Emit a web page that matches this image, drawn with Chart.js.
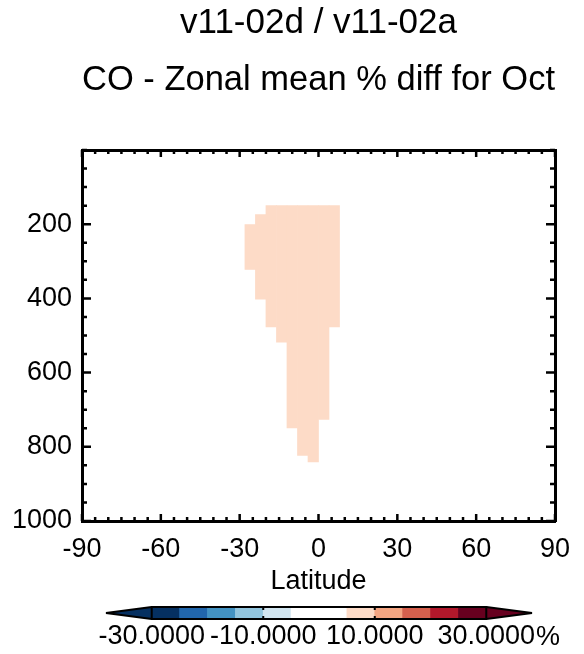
<!DOCTYPE html>
<html>
<head>
<meta charset="utf-8">
<script src="https://cdn.jsdelivr.net/npm/chart.js@4.4.0/dist/chart.umd.min.js"></script>
<style>
  body { margin: 0; background: #fff; }
  canvas { display: block; }
</style>
</head>
<body>
<canvas id="zonalChart" width="584" height="600"></canvas>
<canvas id="colorBar" width="584" height="54"></canvas>
<script>
// Cells with a diff: 4 deg latitude bands, top / bottom pressure edge in hPa
const latCenters = [-26, -22, -18, -14, -10, -6, -2, 2, 6];
const pTop = [201, 174, 150, 150, 150, 150, 150, 150, 150];
const pBottom = [322, 402, 477, 518, 749, 823, 841, 726, 477];
const pctDiff = [6, 6, 7, 7, 8, 7, 6, 7, 6];

const xTicks = [-90, -60, -30, 0, 30, 60, 90];
const yTicks = [200, 400, 600, 800, 1000];

// colour table of the bar below the plot (RdBu, 5% steps)
const cbLevels = [-30, -25, -20, -15, -10, -5, 0, 5, 10, 15, 20, 25, 30];
const cbColors = ['#053061', '#2166ac', '#4393c3', '#92c5de', '#d1e5f0', '#ffffff',
                  '#ffffff', '#fddbc7', '#f4a582', '#d6604d', '#b2182b', '#67001f'];
const cbTicks = [-30, -10, 10, 30];

Chart.defaults.font.family = "'Liberation Sans', Arial, Helvetica, sans-serif";
Chart.defaults.color = '#000';

function colorFor(v) {
  for (let i = 0; i < cbColors.length; i++) {
    if (v >= cbLevels[i] && v < cbLevels[i + 1]) return cbColors[i];
  }
  return v < cbLevels[0] ? cbColors[0] : cbColors[cbColors.length - 1];
}

function tickList(min, max, step) {
  const out = [];
  for (let v = min; v <= max; v += step) out.push(v);
  return out;
}

// IDL style tick marks, pointing into the plot on every side
const inwardTicks = {
  id: 'inwardTicks',
  afterDatasetsDraw(chart, args, opts) {
    const ctx = chart.ctx;
    const {left, right, top, bottom} = chart.chartArea;
    ctx.save();
    ctx.strokeStyle = '#000';
    ctx.lineWidth = opts.width;
    ctx.beginPath();
    if (opts.x) {
      const s = chart.scales.x;
      opts.x.values.forEach(v => {
        const px = s.getPixelForValue(v);
        const len = opts.x.major.includes(v) ? opts.x.majorLen : opts.x.minorLen;
        ctx.moveTo(px, top); ctx.lineTo(px, top + len);
        ctx.moveTo(px, bottom); ctx.lineTo(px, bottom - len);
      });
    }
    if (opts.y) {
      const s = chart.scales.y;
      opts.y.values.forEach(v => {
        const py = s.getPixelForValue(v);
        const len = opts.y.major.includes(v) ? opts.y.majorLen : opts.y.minorLen;
        ctx.moveTo(left, py); ctx.lineTo(left + len, py);
        ctx.moveTo(right, py); ctx.lineTo(right - len, py);
      });
    }
    ctx.stroke();
    ctx.restore();
  }
};

// "%" unit written right after the last colour bar label
const unitLabel = {
  id: 'unitLabel',
  afterDraw(chart) {
    const ctx = chart.ctx;
    const s = chart.scales.x;
    ctx.save();
    ctx.font = "27px 'Liberation Sans', Arial, sans-serif";
    const last = cbTicks[cbTicks.length - 1];
    const x = s.getPixelForValue(last) + ctx.measureText(last.toFixed(4)).width / 2 + 1;
    ctx.fillStyle = '#000';
    ctx.textBaseline = 'alphabetic';
    ctx.fillText('%', x, 45);
    ctx.restore();
  }
};

new Chart(document.getElementById('zonalChart'), {
  type: 'bar',
  data: {
    datasets: [{
      data: latCenters.map((lat, i) => ({x: lat, y: [pTop[i], pBottom[i]]})),
      backgroundColor: pctDiff.map(colorFor),
      borderWidth: 0,
      barPercentage: 1,
      categoryPercentage: 1
    }]
  },
  options: {
    responsive: false,
    animation: false,
    plugins: {
      legend: {display: false},
      tooltip: {enabled: false},
      // fullSize off: titles are centred over the plot box, not the canvas
      title: {
        display: true,
        fullSize: false,
        text: 'v11-02d / v11-02a',
        font: {size: 35, weight: 'normal'},
        color: '#000',
        padding: {top: 2.5, bottom: 0}
      },
      subtitle: {
        display: true,
        fullSize: false,
        text: 'CO - Zonal mean % diff for Oct',
        font: {size: 35, weight: 'normal'},
        color: '#000',
        padding: {top: 14.5, bottom: 49}
      },
      inwardTicks: {
        width: 2.5,
        x: {values: tickList(-90, 90, 5), major: xTicks, majorLen: 7, minorLen: 4},
        y: {values: tickList(0, 1000, 50), major: yTicks, majorLen: 9, minorLen: 5}
      }
    },
    scales: {
      x: {
        type: 'linear', position: 'bottom', min: -90, max: 90, offset: false,
        afterBuildTicks: s => { s.ticks = xTicks.map(v => ({value: v})); },
        ticks: {font: {size: 27}, color: '#000', padding: 12, maxRotation: 0, autoSkip: false,
                callback: v => String(v)},
        grid: {display: false, drawTicks: false, offset: false},
        border: {color: '#000', width: 3},
        title: {display: true, text: 'Latitude', font: {size: 27}, color: '#000', padding: {top: 0, bottom: 2}},
        afterFit: s => { s.height = 79; }
      },
      x2: {
        type: 'linear', position: 'top', min: -90, max: 90, offset: false,
        ticks: {display: false},
        grid: {display: false, drawTicks: false, offset: false},
        border: {color: '#000', width: 3},
        afterFit: s => { s.height = 0; }
      },
      y: {
        type: 'linear', position: 'left', reverse: true, min: 0, max: 1000,
        afterBuildTicks: s => { s.ticks = yTicks.map(v => ({value: v})); },
        ticks: {font: {size: 27}, color: '#000', padding: 10, callback: v => String(v)},
        grid: {display: false, drawTicks: false},
        border: {color: '#000', width: 3},
        afterFit: s => { s.width = 82; }
      },
      y2: {
        type: 'linear', position: 'right', reverse: true, min: 0, max: 1000,
        ticks: {display: false},
        grid: {display: false, drawTicks: false},
        border: {color: '#000', width: 3},
        afterFit: s => { s.width = 29; }
      }
    }
  },
  plugins: [inwardTicks]
});

// colour bar: one bar per level band, triangles for the out-of-range ends
const cbLow = -38.2, cbHigh = 38.2;
const barOutline = [
  {x: -30, y: 0}, {x: cbLow, y: 0.5}, {x: -30, y: 1}, {x: -30, y: 0},
  {x: 30, y: 0}, {x: cbHigh, y: 0.5}, {x: 30, y: 1}, {x: 30, y: 0},
  {x: 30, y: 1}, {x: -30, y: 1}
];

new Chart(document.getElementById('colorBar'), {
  type: 'bar',
  data: {
    datasets: [
      {
        type: 'bar',
        data: cbColors.map((c, i) => ({x: (cbLevels[i] + cbLevels[i + 1]) / 2, y: 1})),
        backgroundColor: cbColors,
        borderWidth: 0,
        barPercentage: 1,
        categoryPercentage: 1,
        order: 3
      },
      {
        type: 'line',
        data: [{x: -30, y: 0}, {x: cbLow, y: 0.5}, {x: -30, y: 1}],
        backgroundColor: cbColors[0],
        borderWidth: 0,
        pointRadius: 0,
        fill: 'shape',
        order: 2
      },
      {
        type: 'line',
        data: [{x: 30, y: 0}, {x: cbHigh, y: 0.5}, {x: 30, y: 1}],
        backgroundColor: cbColors[cbColors.length - 1],
        borderWidth: 0,
        pointRadius: 0,
        fill: 'shape',
        order: 2
      },
      {
        type: 'line',
        data: barOutline,
        borderColor: '#000',
        borderWidth: 2,
        borderJoinStyle: 'bevel',
        pointRadius: 0,
        fill: false,
        clip: false,
        order: 0
      }
    ]
  },
  options: {
    responsive: false,
    animation: false,
    layout: {padding: {left: 106, right: 52, top: 7}},
    plugins: {
      legend: {display: false},
      tooltip: {enabled: false},
      inwardTicks: {
        width: 2,
        x: {values: [-10, 10], major: [], majorLen: 3, minorLen: 3}
      }
    },
    scales: {
      x: {
        type: 'linear', min: cbLow, max: cbHigh, offset: false,
        afterBuildTicks: s => { s.ticks = cbTicks.map(v => ({value: v})); },
        ticks: {callback: v => v.toFixed(4), font: {size: 27}, color: '#000', padding: 1, maxRotation: 0, autoSkip: false},
        grid: {display: false, drawTicks: false, offset: false},
        border: {display: false},
        afterFit: s => { s.height = 35; }
      },
      y: {display: false, min: 0, max: 1}
    }
  },
  plugins: [inwardTicks, unitLabel]
});
</script>
</body>
</html>
